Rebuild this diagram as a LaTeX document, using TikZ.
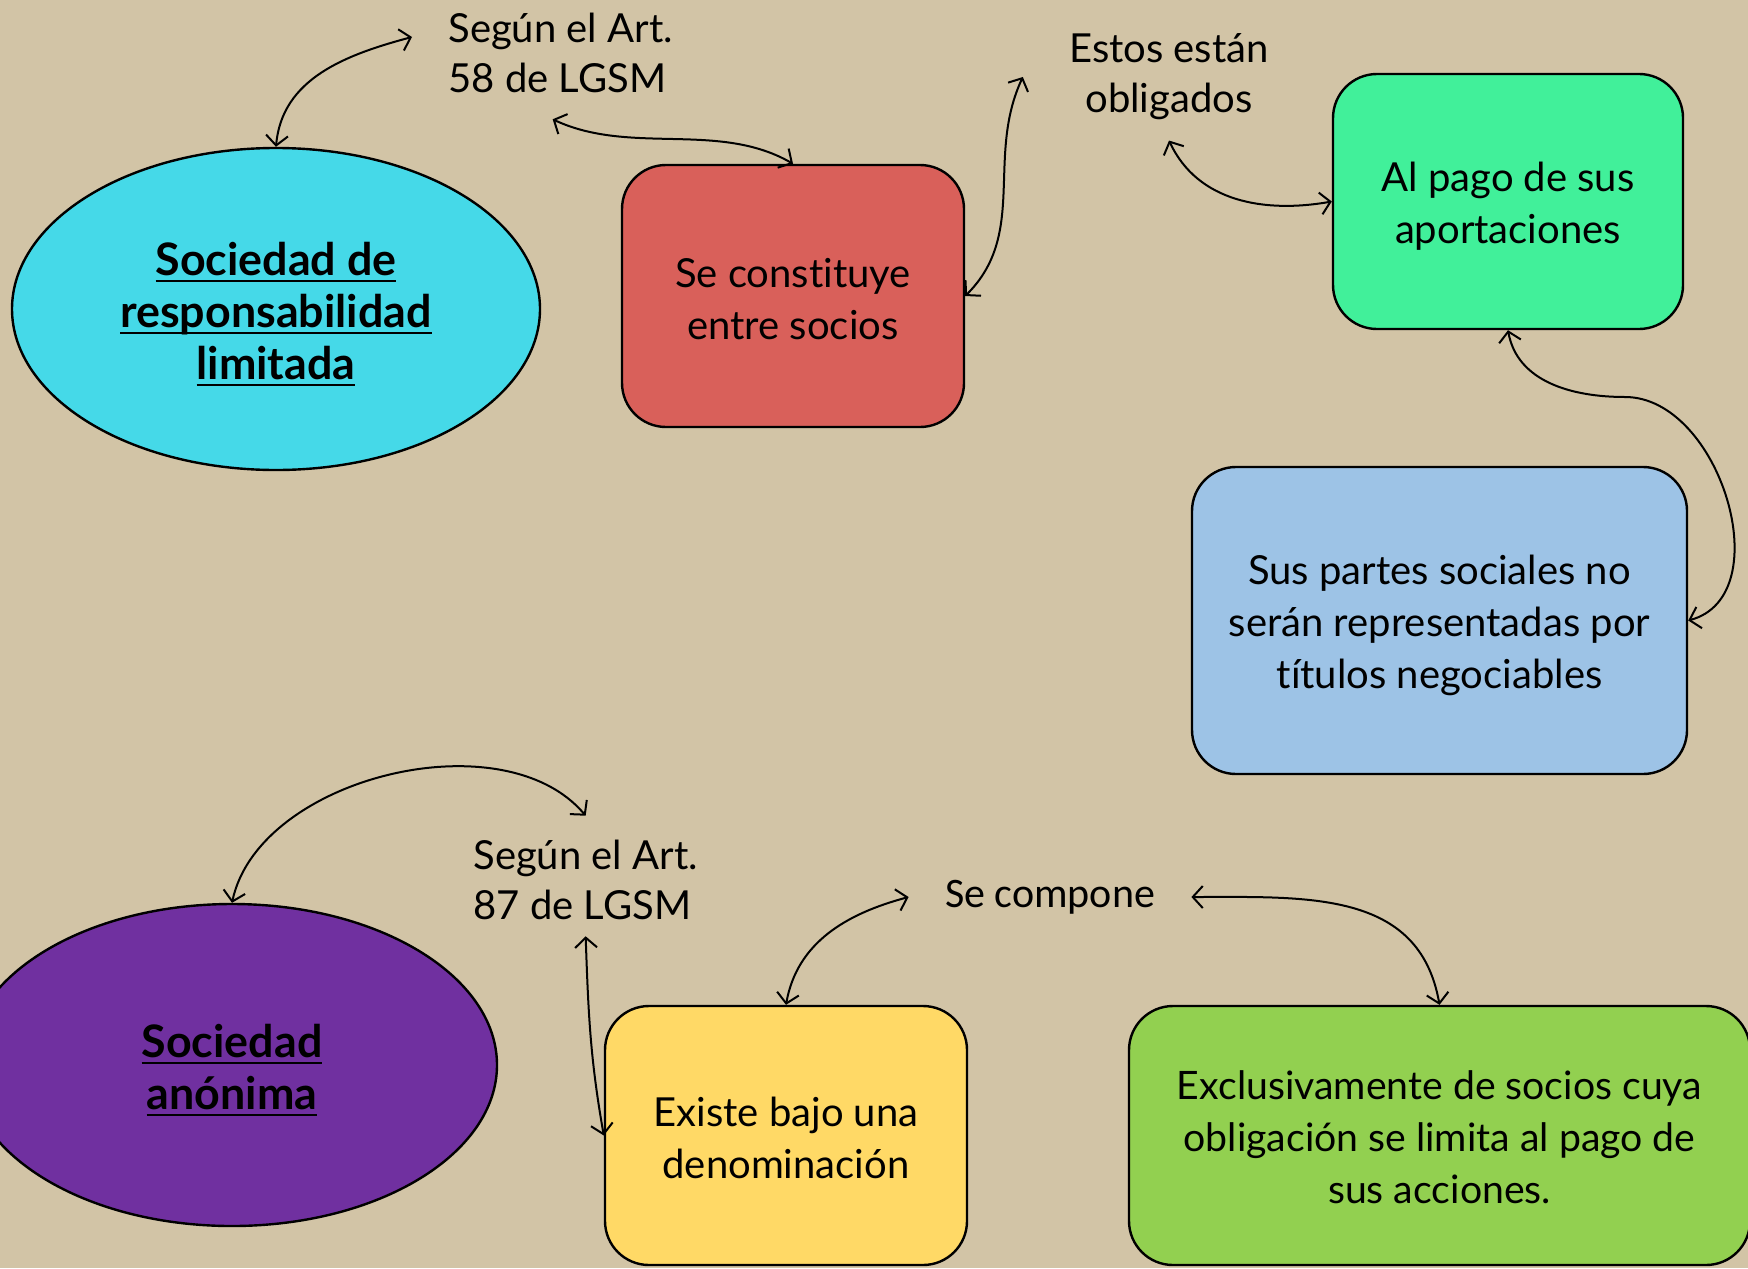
\documentclass[tikz,border=0pt]{standalone}
\usepackage{fontspec}
\setmainfont{Lato}[Ligatures={NoCommon}]
\newfontfamily\compfont{Carlito}
\usetikzlibrary{arrows.meta,shapes.geometric}
\definecolor{bgc}{RGB}{210,196,166}
\definecolor{cyanc}{RGB}{69,217,232}
\definecolor{redc}{RGB}{217,96,90}
\definecolor{greenc}{RGB}{65,240,154}
\definecolor{bluec}{RGB}{157,195,230}
\definecolor{purplec}{RGB}{112,48,160}
\definecolor{yellowc}{RGB}{255,217,102}
\definecolor{limec}{RGB}{146,208,80}
\newcommand\ulx[1]{\leavevmode\setbox0\hbox{#1}\rlap{\rule[-3.5pt]{\wd0}{1.2pt}}\box0}
\begin{document}
\begin{tikzpicture}[x=0.5pt,y=-0.5pt,
  conn/.style={line width=1pt, {Straight Barb[length=5pt,width=11pt]}-{Straight Barb[length=5pt,width=11pt]}},
  box/.style={draw=black, line width=1.2pt, rounded corners=22pt, align=center, inner sep=0pt, font=\fontsize{20}{26}\selectfont},
  ell/.style={ellipse, draw=black, line width=1.2pt, align=center, inner sep=0pt, font=\bfseries\fontsize{22.4}{26}\selectfont},
  lbl/.style={align=left, inner sep=0pt, font=\fontsize{20}{25}\selectfont}]
\useasboundingbox (0,0) rectangle (1748,1268);
\clip (0,0) rectangle (1748,1268);
\fill[bgc] (0,0) rectangle (1748,1268);

% shapes
\node[ell, fill=cyanc, minimum width=264pt, minimum height=161pt] (e1) at (276,309) {};
\node[align=center, font=\bfseries\fontsize{22.4}{26}\selectfont] (e1t) at ([yshift=-2.5pt]e1.center)
  {\ulx{Sociedad de}\\\ulx{responsabilidad}\\\ulx{limitada}};
\node[box, fill=redc, minimum width=171pt, minimum height=131pt] (red) at (793,296) {};
\node[align=center, font=\fontsize{20}{26}\selectfont] (redt) at ([yshift=-1.5pt]red.center)
  {Se constituye\\entre socios};
\node[box, fill=greenc, minimum width=175pt, minimum height=127.5pt] (green) at (1508,201.5) {};
\node[align=center, font=\fontsize{20}{26}\selectfont] (greent) at ([yshift=-2.5pt]green.center)
  {Al pago de sus\\aportaciones};
\node[box, fill=bluec, minimum width=247.5pt, minimum height=153.5pt] (blue) at (1439.5,620.5) {};
\node[align=center, font=\fontsize{20}{26}\selectfont] (bluet) at ([yshift=-2.5pt]blue.center)
  {Sus partes sociales no\\serán representadas por\\títulos negociables};
\node[ell, fill=purplec, minimum width=265pt, minimum height=161pt] (e2) at (232,1065) {};
\node[align=center, font=\bfseries\fontsize{22.4}{26}\selectfont] (e2t) at ([yshift=-2.5pt]e2.center)
  {\ulx{Sociedad}\\\ulx{anónima}};
\node[box, fill=yellowc, minimum width=181pt, minimum height=129.5pt] (yellow) at (786,1135.5) {};
\node[align=center, font=\fontsize{20}{26}\selectfont] (yellowt) at ([yshift=-1pt]yellow.center)
  {Existe bajo una\\denominación};
\node[box, fill=limec, minimum width=310.5pt, minimum height=129.5pt] (lime) at (1439.5,1135.5) {};
\node[align=center, font=\fontsize{19.6}{26}\selectfont] (limet) at ([yshift=-1pt]lime.center)
  {Exclusivamente de socios cuya\\obligación se limita al pago de\\sus acciones.};

% labels
\node[lbl, anchor=west] (l58) at (448,53) {Según el Art.\\58 de LGSM};
\node[lbl, align=center] (lest) at (1169,77) {Estos están\\obligados};
\node[lbl, font=\compfont\fontsize{21}{25}\selectfont] (lcomp) at (1050,897) {Se compone};
\node[lbl, anchor=west] (l87) at (473,880) {Según el Art.\\87 de LGSM};

% connectors
\draw[conn] (e1.north) to[out=85,in=195] ([xshift=-18pt,yshift=8pt]l58.west);
\draw[conn] ([xshift=-4pt,yshift=-13pt]l58.south) to[out=-25,in=150,looseness=0.9] (red.north);
\draw[conn] (red.east) to[out=45,in=245] ([xshift=-23pt]lest.west);
\draw[conn] ([yshift=-10pt]lest.south) to[out=-65,in=190] (green.west);
\coordinate (m5) at (1625,397);
\draw[line width=1pt, {Straight Barb[length=5pt,width=11pt]}-] (green.south) to[out=-80,in=180] (m5);
\draw[line width=1pt, -{Straight Barb[length=5pt,width=11pt]}] (m5) to[out=0,in=15,looseness=1.05] (blue.east);
\draw[conn] (e2.north) to[out=78,in=130,looseness=0.9] ([yshift=12pt]l87.north);
\draw[conn] ([yshift=-8pt]l87.south) to[out=-88,in=100] (yellow.west);
\draw[conn] (yellow.north) to[out=80,in=195] ([xshift=-18pt]lcomp.west);
\draw[conn] ([xshift=18pt]lcomp.east) to[out=0,in=100,looseness=1.1] (lime.north);
\end{tikzpicture}
\end{document}
